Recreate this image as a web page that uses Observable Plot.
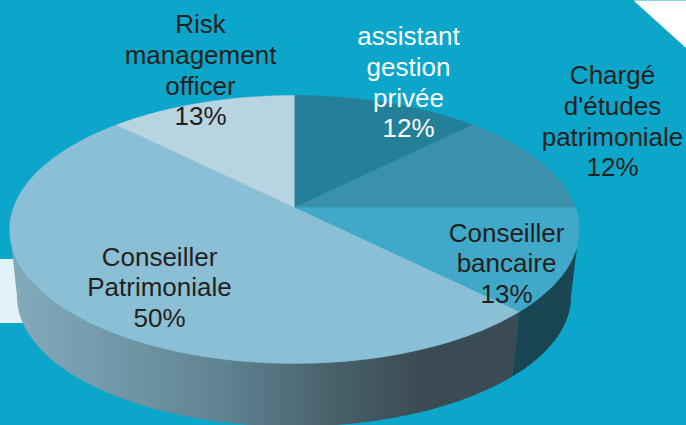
<!DOCTYPE html>
<html>
<head>
<meta charset="utf-8">
<script src="https://cdn.jsdelivr.net/npm/d3@7"></script>
<script src="https://cdn.jsdelivr.net/npm/@observablehq/plot@0.6"></script>
<style>
html,body{margin:0;padding:0;background:#0ba6ca;overflow:hidden}
svg{display:block}
</style>
</head>
<body>
<div id="chart"></div>
<script>
// Data
const categories = ["assistant\ngestion\nprivée", "Chargé\nd'études\npatrimoniale", "Conseiller\nbancaire", "Conseiller\nPatrimoniale", "Risk\nmanagement\nofficer"];
const shares = [12.5, 12.5, 12.5, 50, 12.5];
const percentLabels = ["12%", "12%", "13%", "50%", "13%"];
const sliceColors = ["#247f98", "#3b90ac", "#40a8c8", "#8abfd5", "#b8d4e1"];
const labelColors = ["#ffffff", "#231f20", "#231f20", "#231f20", "#231f20"];
const labelX = [408, 612, 506, 159, 200];
const labelY = [81, 120, 262, 286, 69];

// Perspective view of a disc: top rim and bottom rim
const topRim = {cx: 294, cy: 207, a: 281, b: 130.4, k: 0.164};
const botRim = {cx: 293.5, cy: 275, a: 273.4, b: 126.6, k: 0.1615};
const project = (rim, deg) => {
  const t = deg * Math.PI / 180, u = Math.sin(t), w = -Math.cos(t), d = 1 - rim.k * w;
  return {x: rim.cx + rim.a * u / d, y: rim.cy + rim.b * w / d};
};
const arc = (rim, from, to) => {
  const n = Math.max(2, Math.ceil(Math.abs(to - from)));
  return d3.range(n + 1).map(i => project(rim, from + (to - from) * i / n));
};

const total = d3.sum(shares);
let cum = 0;
const slices = shares.map((s, i) => {
  const start = cum / total * 360; cum += s;
  return {i, start, end: cum / total * 360};
});

const silhouetteR = 99, silhouetteL = 261;
const wall = (from, to) => [...arc(topRim, from, to), ...arc(botRim, to, from)];

const topFace = s => [{x: topRim.cx, y: topRim.cy}, ...arc(topRim, s.start, s.end)];

const marks = [
  // page decorations
  Plot.rect([{x1: 0, x2: 30, y1: 259, y2: 323}], {x1: "x1", x2: "x2", y1: "y1", y2: "y2", fill: "#e3f2f8"}),
  Plot.line([{x: 633, y: 0}, {x: 686, y: 48}, {x: 686, y: 0}], {x: "x", y: "y", fill: "#ffffff", stroke: "none"}),
  // walls
  Plot.line(wall(slices[3].start, silhouetteL), {x: "x", y: "y", fill: "url(#wallGradient)", stroke: "none"}),
  Plot.line(wall(silhouetteR, slices[2].end), {x: "x", y: "y", fill: "#1a4553", stroke: "none"}),
  // top faces
  ...slices.map(s => Plot.line(topFace(s), {x: "x", y: "y", fill: sliceColors[s.i], stroke: sliceColors[s.i], strokeWidth: 0.4})),
  // labels
  Plot.text(slices, {
    x: d => labelX[d.i],
    y: d => labelY[d.i],
    text: d => categories[d.i] + "\n" + percentLabels[d.i],
    fill: d => labelColors[d.i],
    fontSize: 26,
    lineHeight: 1.18,
    lineAnchor: "middle",
    textAnchor: "middle",
    fontFamily: "'Liberation Sans', Arial, sans-serif"
  })
];

const plot = Plot.plot({
  width: 686,
  height: 425,
  margin: 0,
  style: {background: "#0ba6ca", overflow: "hidden"},
  x: {domain: [0, 686], range: [0, 686], axis: null},
  y: {domain: [0, 425], range: [0, 425], axis: null},
  marks
});

const ns = "http://www.w3.org/2000/svg";
const defs = document.createElementNS(ns, "defs");
const grad = document.createElementNS(ns, "linearGradient");
grad.setAttribute("id", "wallGradient");
grad.setAttribute("gradientUnits", "userSpaceOnUse");
grad.setAttribute("x1", 10); grad.setAttribute("x2", 420);
grad.setAttribute("y1", 0); grad.setAttribute("y2", 0);
[[0, "#82abbc"], [0.25, "#7398a9"], [0.52, "#5f8391"], [0.8, "#475f69"], [1, "#3b4b53"]].forEach(([o, c]) => {
  const st = document.createElementNS(ns, "stop");
  st.setAttribute("offset", o); st.setAttribute("stop-color", c);
  grad.appendChild(st);
});
defs.appendChild(grad);
plot.insertBefore(defs, plot.firstChild);
document.getElementById("chart").appendChild(plot);
</script>
</body>
</html>
